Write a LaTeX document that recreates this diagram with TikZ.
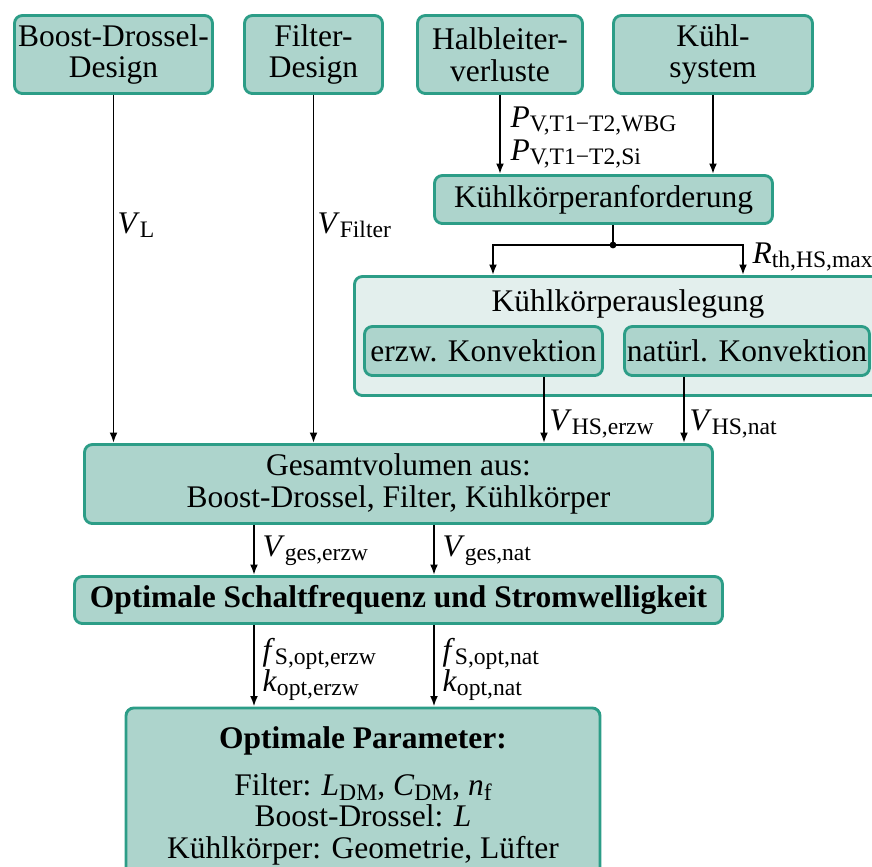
\documentclass[tikz,border=0pt]{standalone}
\usepackage{fontspec}
\setmainfont{Liberation Serif}
\usetikzlibrary{positioning,arrows.meta}

\definecolor{boxfill}{RGB}{173,212,204}
\definecolor{boxline}{RGB}{44,157,135}
\definecolor{groupfill}{RGB}{227,239,237}

% one drawing unit
\newcommand{\pu}{0.01339cm}
% symbol with upright index
\newcommand{\sym}[2]{\textit{#1}\raisebox{-1.8pt}[0pt][0pt]{\fontsize{9}{9}\selectfont #2}}

\begin{document}
\begin{tikzpicture}[x=\pu, y=-\pu, font=\fontsize{12}{12}\selectfont,
	>={Latex[length=4pt,width=3pt]},
	block/.style={rectangle, rounded corners=3pt, draw=boxline, fill=boxfill, line width=1.1pt, align=center, inner sep=0pt},
	group/.style={block, fill=groupfill},
	flow/.style={->, line width=0.7pt},
	lbl/.style={anchor=base west, inner sep=0pt, align=left}]
	\useasboundingbox (0,0) rectangle (872,867);
	\clip (0,0) rectangle (872,867);

	% inputs
	\node[block, minimum width=198*\pu, minimum height=78*\pu](1) at (113.5,54.5){Boost-Drossel-\\Design};
	\node[block, minimum width=138*\pu, minimum height=78*\pu](2) at (313.5,54.5){Filter-\\Design};
	\node[block, minimum width=165*\pu, minimum height=78*\pu](3) at (500,54.5){Halbleiter-\\verluste};
	\node[block, minimum width=199*\pu, minimum height=78*\pu](4) at (713,54.5){Kühl-\\system};
	\node[block, minimum width=338*\pu, minimum height=48*\pu](5) at (603.5,199.5){Kühlkörperanforderung};

	% heat sink design
	\node[group, minimum width=547*\pu, minimum height=119*\pu](6) at (628,336){};
	\node[anchor=base, inner sep=0pt](6t) at (628,311){Kühlkörperauslegung};
	\node[block, minimum width=238*\pu, minimum height=49*\pu](7) at (483.5,351){erzw. Konvektion};
	\node[block, minimum width=245*\pu, minimum height=49*\pu](8) at (747,351){natürl. Konvektion};

	% results
	\node[block, minimum width=628*\pu, minimum height=79*\pu](9) at (398.5,484){Gesamtvolumen aus:\\Boost-Drossel, Filter, Kühlkörper};
	\node[block, minimum width=648*\pu, minimum height=47*\pu](10) at (398.5,600){\textbf{Optimale Schaltfrequenz und Stromwelligkeit}};
	\node[block, minimum width=474*\pu, inner sep=7pt, anchor=north](11) at (363,706.5){\textbf{Optimale Parameter:}\\[6pt]
		Filter: \sym{L}{DM}, \sym{C}{DM}, \sym{n}{f}\\
		Boost-Drossel: \textit{L}\\
		Kühlkörper: Geometrie, Lüfter\rule[-20pt]{0pt}{0pt}};

	% branch points
	\coordinate (j) at (613,245);
	\coordinate (jl) at (493,0);
	\coordinate (jr) at (743,0);
	\coordinate (ve) at (544,0);
	\coordinate (vn) at (684,0);
	\coordinate (ge) at (254,0);
	\coordinate (gn) at (434,0);

	\draw[flow] (1) -- (1 |- 9.north);
	\draw[flow] (2) -- (2 |- 9.north);
	\draw[flow] (3) -- (3 |- 5.north);
	\draw[flow] (4) -- (4 |- 5.north);
	\draw[line width=0.7pt] (5.south -| j) -- (j);
	\draw[flow] (j) -| (jl |- 6.north);
	\draw[flow] (j) -| (jr |- 6.north);
	\fill (j) circle (1.3pt);
	\draw[flow] (7.south -| ve) -- (9.north -| ve);
	\draw[flow] (8.south -| vn) -- (9.north -| vn);
	\draw[flow] (9.south -| ge) -- (10.north -| ge);
	\draw[flow] (9.south -| gn) -- (10.north -| gn);
	\draw[flow] (10.south -| ge) -- (11.north -| ge);
	\draw[flow] (10.south -| gn) -- (11.north -| gn);

	% connector labels
	\node[lbl](l1) at (117,233){\sym{V}{L}};
	\node[lbl](l2) at (317,233){\sym{V}{Filter}};
	\node[lbl](l3) at (510,127){\sym{P}{V,T1−T2,WBG}};
	\node[lbl](l4) at (510,160){\sym{P}{V,T1−T2,Si}};
	\node[lbl](l5) at (752,263){\sym{R}{th,HS,max}};
	\node[lbl](l6) at (549,430){\sym{V}{HS,erzw}};
	\node[lbl](l7) at (689,430){\sym{V}{HS,nat}};
	\node[lbl](l8) at (262,556){\sym{V}{ges,erzw}};
	\node[lbl](l9) at (442,556){\sym{V}{ges,nat}};
	\node[lbl](l10) at (262,660){\sym{f}{S,opt,erzw}};
	\node[lbl](l11) at (262,691){\sym{k}{opt,erzw}};
	\node[lbl](l12) at (442,660){\sym{f}{S,opt,nat}};
	\node[lbl](l13) at (442,691){\sym{k}{opt,nat}};
\end{tikzpicture}
\end{document}
